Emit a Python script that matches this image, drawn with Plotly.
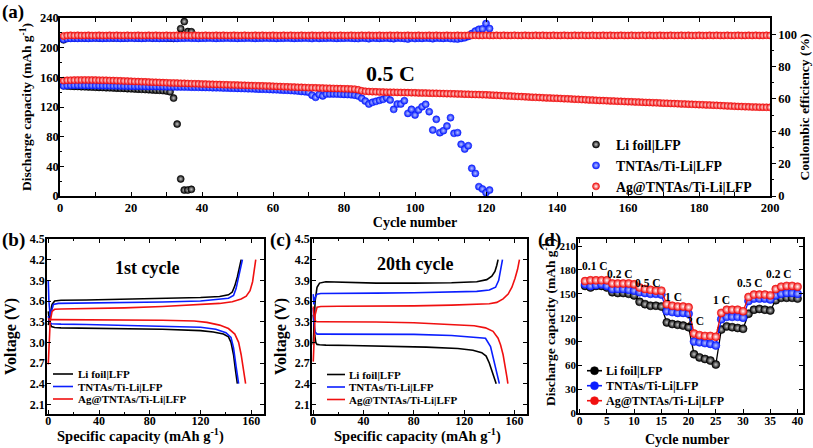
import plotly.graph_objects as go

# ---------------- Panel (a) data ----------------
a_li_cycles = list(range(1, 38))
a_li_capacity = [148.5, 148.3, 148.1, 147.8, 147.7, 147.4, 147.2, 147.1, 146.8, 146.6,
                 146.4, 146.3, 146.0, 145.8, 145.7, 145.4, 145.2, 145.1, 144.7, 144.5,
                 144.3, 144.0, 143.8, 143.5, 143.3, 143.0, 142.7, 142.5, 142.1, 141.6,
                 140.5, 132.0, 97.0, 23.0, 8.0, 8.0, 9.0]
a_li_ce = [96.5, 97.6, 97.8, 97.7, 97.9, 97.8, 97.7, 97.8, 97.9, 97.8,
           97.7, 97.8, 97.8, 97.9, 97.7, 97.8, 97.8, 97.7, 97.8, 97.9,
           97.8, 97.7, 97.8, 97.8, 97.9, 97.7, 97.8, 97.8, 97.7, 97.6,
           97.5, 97.4, 97.6, 103.4, 107.8, 101.6, 101.5]

a_tn_cycles = list(range(1, 122))
a_tn_capacity = [148.6, 149.0, 149.2, 149.3, 149.3, 149.2, 149.1, 149.1, 149.0, 148.9,
                 148.8, 148.8, 148.7, 148.6, 148.5, 148.5, 148.4, 148.3, 148.2, 148.1,
                 148.1, 148.0, 147.9, 147.8, 147.7, 147.7, 147.6, 147.5, 147.4, 147.3,
                 147.2, 147.1, 147.1, 147.0, 146.9, 146.8, 146.7, 146.6, 146.5, 146.4,
                 146.3, 146.2, 146.0, 145.9, 145.8, 145.6, 145.5, 145.4, 145.2, 145.1,
                 144.9, 144.8, 144.6, 144.5, 144.3, 144.1, 144.0, 143.8, 143.6, 143.4,
                 143.2, 143.0, 142.7, 142.5, 142.2, 141.9, 141.5, 141.0, 140.6, 140.0,
                 136.0, 133.0, 137.0, 135.0, 137.5, 137.5, 137.6, 137.4, 137.3, 137.0,
                 136.8, 136.5, 136.0, 134.8, 131.7, 128.0, 124.0, 126.3, 127.6, 129.0,
                 130.3, 132.5, 129.4, 116.8, 124.0, 124.0, 128.5, 111.4, 116.8, 109.2,
                 116.0, 120.4, 123.6, 113.7, 89.0, 103.4, 85.4, 88.0, 94.4, 105.6,
                 84.5, 85.4, 69.7, 63.3, 67.8, 37.3, 30.5, 12.6, 9.4, 4.5, 8.0]
a_tn_ce = [96.8, 97.3, 97.4, 97.5, 97.4, 97.5, 97.5, 97.4, 97.5, 97.6,
           97.5, 97.4, 97.5, 97.5, 97.6, 97.5, 97.4, 97.5, 97.5, 97.6,
           97.5, 97.5, 97.4, 97.5, 97.6, 97.5, 97.5, 97.4, 97.5, 97.5,
           97.6, 97.5, 97.4, 97.5, 97.5, 97.6, 97.5, 97.5, 97.4, 97.5,
           97.5, 97.6, 97.5, 97.4, 97.5, 97.5, 97.6, 97.5, 97.5, 97.4,
           97.5, 97.5, 97.6, 97.5, 97.4, 97.5, 97.5, 97.6, 97.5, 97.5,
           97.4, 97.5, 97.5, 97.6, 97.5, 97.4, 97.5, 97.5, 97.6, 97.5,
           97.3, 97.6, 97.4, 97.5, 97.5, 97.6, 97.5, 97.4, 97.5, 97.5,
           97.6, 97.5, 97.4, 97.3, 97.6, 97.5, 97.2, 97.6, 97.5, 97.4,
           97.5, 97.6, 97.4, 97.2, 97.6, 97.5, 97.3, 97.0, 97.6, 97.3,
           97.5, 97.4, 97.6, 97.5, 97.2, 97.6, 97.5, 97.4, 97.6, 97.3,
           97.1, 97.0, 97.4, 97.8, 98.6, 100.4, 101.9, 103.0, 103.3, 106.6, 103.5]

a_ag_cycles = list(range(1, 201))
a_ag_capacity = [155.6, 156.0, 156.2, 156.3, 156.4, 156.4, 156.5, 156.4, 156.4, 156.3,
                 156.2, 156.1, 156.0, 155.8, 155.7, 155.5, 155.3, 155.1, 154.9, 154.7,
                 154.5, 154.3, 154.1, 153.9, 153.7, 153.5, 153.3, 153.1, 152.9, 152.7,
                 152.5, 152.4, 152.2, 152.0, 151.9, 151.7, 151.5, 151.4, 151.2, 151.0,
                 150.9, 150.7, 150.6, 150.4, 150.3, 150.1, 150.0, 149.8, 149.7, 149.5,
                 149.4, 149.2, 149.1, 148.9, 148.8, 148.6, 148.5, 148.3, 148.2, 148.0,
                 147.8, 147.6, 147.4, 147.2, 147.0, 146.8, 146.6, 146.5, 146.3, 146.1,
                 146.0, 145.8, 145.7, 145.5, 145.4, 145.2, 145.1, 144.9, 144.8, 144.6,
                 144.5, 144.3, 144.1, 143.2, 141.9, 141.2, 140.9, 140.7, 140.5, 140.3,
                 140.2, 140.0, 139.9, 139.8, 139.7, 139.6, 139.5, 139.4, 139.3, 139.2,
                 139.0, 138.9, 138.8, 138.7, 138.5, 138.4, 138.3, 138.1, 138.0, 137.9,
                 137.7, 137.6, 137.5, 137.3, 137.2, 137.0, 136.9, 136.7, 136.6, 136.4,
                 136.2, 136.0, 135.7, 135.5, 135.2, 135.0, 134.7, 134.5, 134.2, 134.0,
                 133.7, 133.5, 133.2, 133.0, 132.8, 132.5, 132.3, 132.1, 131.9, 131.7,
                 131.5, 131.2, 131.0, 130.8, 130.5, 130.3, 130.0, 129.8, 129.5, 129.3,
                 129.0, 128.8, 128.6, 128.4, 128.2, 128.0, 127.8, 127.6, 127.4, 127.2,
                 127.0, 126.8, 126.6, 126.4, 126.2, 126.0, 125.8, 125.6, 125.4, 125.2,
                 125.0, 124.8, 124.6, 124.4, 124.2, 124.0, 123.8, 123.6, 123.4, 123.2,
                 123.0, 122.8, 122.6, 122.4, 122.2, 121.9, 121.7, 121.5, 121.2, 121.0,
                 120.8, 120.6, 120.4, 120.2, 120.0, 119.9, 119.8, 119.7, 119.6, 119.5]
a_ag_ce = [98.9, 99.2, 99.3, 99.2, 99.3, 99.2, 99.2, 99.3, 99.2, 99.2,
           99.3, 99.2, 99.2, 99.3, 99.2, 99.3, 99.2, 99.2, 99.3, 99.2,
           99.2, 99.3, 99.2, 99.2, 99.3, 99.2, 99.3, 99.2, 99.2, 99.3,
           99.2, 99.2, 99.3, 99.2, 99.3, 99.2, 99.2, 99.3, 99.2, 99.2,
           99.3, 99.2, 99.2, 99.3, 99.2, 99.3, 99.2, 99.2, 99.3, 99.2,
           99.2, 99.3, 99.2, 99.2, 99.3, 99.2, 99.3, 99.2, 99.2, 99.3,
           99.2, 99.2, 99.3, 99.2, 99.3, 99.2, 99.2, 99.3, 99.2, 99.2,
           99.3, 99.2, 99.2, 99.3, 99.2, 99.3, 99.2, 99.2, 99.3, 99.2,
           99.2, 99.3, 99.2, 99.2, 99.3, 99.2, 99.3, 99.2, 99.2, 99.3,
           99.2, 99.2, 99.3, 99.2, 99.3, 99.2, 99.2, 99.3, 99.2, 99.2,
           99.3, 99.2, 99.2, 99.3, 99.2, 99.3, 99.2, 99.2, 99.3, 99.2,
           99.2, 99.3, 99.2, 99.2, 99.3, 99.2, 99.3, 99.2, 99.2, 99.3,
           99.2, 99.2, 99.3, 99.2, 99.3, 99.2, 99.2, 99.3, 99.2, 99.2,
           99.3, 99.2, 99.2, 99.3, 99.2, 99.3, 99.2, 99.2, 99.3, 99.2,
           99.2, 99.3, 99.2, 99.2, 99.3, 99.2, 99.3, 99.2, 99.2, 99.3,
           99.2, 99.2, 99.3, 99.2, 99.3, 99.2, 99.2, 99.3, 99.2, 99.2,
           99.3, 99.2, 99.2, 99.3, 99.2, 99.3, 99.2, 99.2, 99.3, 99.2,
           99.2, 99.3, 99.2, 99.2, 99.3, 99.2, 99.3, 99.2, 99.2, 99.3,
           99.2, 99.2, 99.3, 99.2, 99.3, 99.2, 99.2, 99.3, 99.2, 99.2,
           99.3, 99.2, 99.2, 99.3, 99.2, 99.3, 99.2, 99.2, 99.3, 99.2]

# ---------------- Panel (b) data: 1st cycle ----------------
b_li_ch_cap = [0, 1.5, 3, 5, 10, 30, 60, 90, 120, 135, 142, 145, 147, 149, 150.5, 152]
b_li_ch_v = [3.25, 3.4, 3.55, 3.6, 3.61, 3.615, 3.625, 3.635, 3.65, 3.665, 3.69, 3.73, 3.82, 3.95, 4.07, 4.2]
b_tn_ch_cap = [0, 0.5, 1.5, 2.5, 4, 8, 30, 60, 90, 120, 135, 142, 146, 148, 150, 151.5, 153]
b_tn_ch_v = [3.9, 3.6, 3.38, 3.45, 3.55, 3.565, 3.57, 3.575, 3.585, 3.6, 3.62, 3.64, 3.68, 3.78, 3.95, 4.08, 4.2]
b_ag_ch_cap = [0, 0.5, 1.5, 3, 5, 10, 30, 60, 90, 120, 135, 145, 152, 156, 159, 161, 162.5, 163.5]
b_ag_ch_v = [2.68, 3.0, 3.3, 3.45, 3.48, 3.485, 3.49, 3.5, 3.52, 3.545, 3.565, 3.59, 3.63, 3.67, 3.75, 3.88, 4.05, 4.2]
b_li_dis_cap = [0, 1, 2.5, 5, 10, 30, 60, 90, 120, 130, 138, 142, 144, 146, 147.5, 149]
b_li_dis_v = [3.45, 3.3, 3.23, 3.215, 3.21, 3.205, 3.2, 3.19, 3.17, 3.15, 3.12, 3.08, 3.0, 2.82, 2.6, 2.4]
b_tn_dis_cap = [0, 1, 2.5, 5, 10, 30, 60, 90, 120, 132, 140, 144, 146, 148, 150]
b_tn_dis_v = [3.38, 3.3, 3.27, 3.265, 3.265, 3.26, 3.25, 3.24, 3.22, 3.19, 3.14, 3.07, 2.92, 2.65, 2.4]
b_ag_dis_cap = [0, 1, 3, 10, 30, 60, 90, 115, 125, 135, 142, 147, 150, 152, 154, 155.5]
b_ag_dis_v = [3.35, 3.33, 3.33, 3.33, 3.33, 3.325, 3.32, 3.31, 3.29, 3.25, 3.2, 3.12, 3.0, 2.82, 2.6, 2.4]

# ---------------- Panel (c) data: 20th cycle ----------------
c_li_ch_cap = [0, 0.5, 1.5, 3, 5, 10, 30, 50, 80, 110, 130, 138, 142, 144.5, 146, 147]
c_li_ch_v = [2.97, 3.2, 3.6, 3.8, 3.86, 3.88, 3.87, 3.86, 3.86, 3.865, 3.88, 3.91, 3.96, 4.03, 4.12, 4.2]
c_tn_ch_cap = [0, 0.5, 1.5, 3, 6, 20, 50, 80, 110, 130, 140, 145, 147.5, 149, 150.5]
c_tn_ch_v = [3.7, 3.55, 3.65, 3.7, 3.71, 3.715, 3.715, 3.72, 3.73, 3.74, 3.76, 3.8, 3.9, 4.05, 4.2]
c_ag_ch_cap = [0, 0.5, 1.5, 3, 6, 20, 50, 80, 110, 130, 140, 146, 151, 155, 158, 160.5, 162.5, 164]
c_ag_ch_v = [2.72, 3.0, 3.4, 3.51, 3.52, 3.525, 3.525, 3.53, 3.54, 3.55, 3.56, 3.58, 3.63, 3.7, 3.8, 3.93, 4.06, 4.2]
c_li_dis_cap = [0, 0.5, 1.2, 2, 3, 5, 10, 30, 60, 90, 115, 127, 134, 137.5, 140, 142, 144, 145.5]
c_li_dis_v = [3.4, 3.25, 3.1, 3.0, 2.97, 2.965, 2.96, 2.955, 2.945, 2.93, 2.91, 2.885, 2.85, 2.8, 2.7, 2.58, 2.47, 2.4]
c_tn_dis_cap = [0, 0.5, 1.5, 3, 6, 20, 50, 80, 110, 128, 137, 141, 144, 146, 148]
c_tn_dis_v = [3.5, 3.3, 3.15, 3.12, 3.12, 3.12, 3.12, 3.115, 3.1, 3.08, 3.06, 2.94, 2.7, 2.55, 2.4]
c_ag_dis_cap = [0, 0.5, 1.5, 3, 6, 20, 50, 80, 115, 128, 137, 143, 147, 149, 151, 152.5, 154, 154.8]
c_ag_dis_v = [3.52, 3.4, 3.31, 3.3, 3.3, 3.3, 3.295, 3.285, 3.26, 3.24, 3.21, 3.16, 3.06, 2.96, 2.82, 2.68, 2.5, 2.4]

# ---------------- Panel (d) data: rate capability ----------------
d_cycles = list(range(1, 41))
d_li = [160, 158, 160, 160, 158, 152, 151, 151, 150, 148,
        140, 137, 135, 135, 134, 114, 112, 111, 110, 108,
        74, 70, 68, 66, 61, 105, 109, 108, 107, 106,
        125, 130, 131, 130, 129, 142, 145, 145, 145, 144]
d_tn = [162, 160, 161, 162, 160, 156, 156, 156, 155, 154,
        152, 151, 150, 150, 149, 128, 127, 126, 126, 125,
        90, 89, 88, 87, 85, 118, 121, 121, 121, 120,
        141, 144, 144, 144, 143, 148, 150, 151, 151, 150]
d_ag = [166, 167, 167, 167, 167, 163, 163, 163, 163, 162,
        158, 156, 155, 154, 154, 137, 135, 134, 134, 133,
        100, 98, 97, 97, 96, 126, 130, 130, 130, 128,
        146, 149, 149, 149, 148, 156, 159, 160, 160, 159]
d_rate_labels = ["0.1 C", "0.2 C", "0.5 C", "1 C", "2 C", "1 C", "0.5 C", "0.2 C"]
d_rate_x = [2.9, 7.5, 12.6, 17.2, 21.2, 26.1, 31.3, 36.6]
d_rate_y = [185, 174.5, 164, 146, 116, 142, 163, 174.5]

series_names = ["Li foil|LFP", "TNTAs/Ti-Li|LFP", "Ag@TNTAs/Ti-Li|LFP"]
series_colors = ["#000000", "#0a1eff", "#f01010"]
ball_glow = ["#c8c8c8", "#b8c4ff", "#ffffff"]

FONT = "Liberation Serif"
W, H = 813, 448


def px_x(v):
    return v / W


def px_y(v):
    return 1 - v / H


def bfont(size):
    return dict(family=FONT, size=size, color="black", weight="bold")


def ball(i, size):
    return dict(symbol="circle", size=size, color=series_colors[i],
                gradient=dict(type="radial", color=ball_glow[i]),
                line=dict(width=0.6, color=series_colors[i]))


fig = go.Figure()

# ---------- panel (a) ----------
a_sets = [(a_li_cycles, a_li_capacity, a_li_ce),
          (a_tn_cycles, a_tn_capacity, a_tn_ce),
          (a_ag_cycles, a_ag_capacity, a_ag_ce)]
for i, (cyc, cap, ce) in enumerate(a_sets):
    fig.add_trace(go.Scatter(x=cyc, y=ce, mode="markers", marker=ball(i, 7),
                             xaxis="x", yaxis="y2", showlegend=False))
for i, (cyc, cap, ce) in enumerate(a_sets):
    fig.add_trace(go.Scatter(x=cyc, y=cap, mode="markers", marker=ball(i, 7),
                             name=series_names[i], xaxis="x", yaxis="y",
                             showlegend=True, legend="legend"))

# ---------- panel (b) ----------
b_sets = [(b_li_ch_cap, b_li_ch_v, b_li_dis_cap, b_li_dis_v),
          (b_tn_ch_cap, b_tn_ch_v, b_tn_dis_cap, b_tn_dis_v),
          (b_ag_ch_cap, b_ag_ch_v, b_ag_dis_cap, b_ag_dis_v)]
for i, (cc, cv, dc, dv) in enumerate(b_sets):
    for xx, yy in ((cc, cv), (dc, dv)):
        fig.add_trace(go.Scatter(x=xx, y=yy, mode="lines",
                                 line=dict(color=series_colors[i], width=1.6),
                                 xaxis="x2", yaxis="y3", showlegend=False))

# ---------- panel (c) ----------
c_sets = [(c_li_ch_cap, c_li_ch_v, c_li_dis_cap, c_li_dis_v),
          (c_tn_ch_cap, c_tn_ch_v, c_tn_dis_cap, c_tn_dis_v),
          (c_ag_ch_cap, c_ag_ch_v, c_ag_dis_cap, c_ag_dis_v)]
for i, (cc, cv, dc, dv) in enumerate(c_sets):
    for xx, yy in ((cc, cv), (dc, dv)):
        fig.add_trace(go.Scatter(x=xx, y=yy, mode="lines",
                                 line=dict(color=series_colors[i], width=1.6),
                                 xaxis="x3", yaxis="y4", showlegend=False))

# ---------- panel (d) ----------
for i, vals in enumerate([d_li, d_tn, d_ag]):
    fig.add_trace(go.Scatter(x=d_cycles, y=vals, mode="lines+markers",
                             line=dict(color=series_colors[i], width=1.3),
                             marker=ball(i, 8),
                             xaxis="x4", yaxis="y5", showlegend=False))

base = dict(showline=True, linecolor="black", linewidth=1.5, showgrid=False,
            zeroline=False, ticks="inside", ticklen=4, tickwidth=1.2,
            tickcolor="black", tickfont=bfont(12.5), automargin=False)
minor_in = dict(ticks="inside", ticklen=2.5, tickcolor="black")
xstand = -3
ystand = -4

dom_a_x = [px_x(60), px_x(770)]
dom_a_y = [px_y(196), px_y(18)]
dom_b_x = [px_x(47), px_x(264)]
dom_c_x = [px_x(312), px_x(527)]
dom_d_x = [px_x(578), px_x(803)]
dom_bc_y = [px_y(414), px_y(239)]
dom_d_y = [px_y(413), px_y(239)]
volt_ticks = [2.1, 2.4, 2.7, 3.0, 3.3, 3.6, 3.9, 4.2, 4.5]

fig.update_layout(
    width=W, height=H, margin=dict(l=0, r=0, t=0, b=0),
    paper_bgcolor="white", plot_bgcolor="white",
    font=dict(family=FONT, color="black"),
    xaxis=dict(base, domain=dom_a_x, range=[0, 200], dtick=20, mirror="allticks",
               minor=dict(minor_in, dtick=10), ticklabelstandoff=-1,
               title=dict(text="Cycle number", font=bfont(14), standoff=0), anchor="y"),
    yaxis=dict(base, domain=dom_a_y, range=[0, 240], dtick=40, mirror=False,
               minor=dict(minor_in, dtick=20), ticklabelstandoff=ystand + 1,
               title=dict(text="Discharge capacity (mAh g<sup>-1</sup>)", font=bfont(13.5), standoff=5),
               anchor="x"),
    yaxis2=dict(base, overlaying="y", side="right", range=[0, 110],
                tickvals=[0, 20, 40, 60, 80, 100], ticks="outside", anchor="x",
                minor=dict(tickvals=[10, 30, 50, 70, 90], ticks="outside", ticklen=2.5, tickcolor="black"),
                title=dict(text="Coulombic efficiency (%)", font=bfont(13.5), standoff=2)),
    xaxis2=dict(base, domain=dom_b_x, range=[-1, 170], dtick=40, mirror="allticks", anchor="y3",
                tickfont=bfont(12), minor=dict(minor_in, dtick=20), ticklabelstandoff=xstand - 2),
    yaxis3=dict(base, domain=dom_bc_y, range=[1.96, 4.5], tickvals=volt_ticks, tickfont=bfont(12),
                tickformat=".1f", mirror="allticks", anchor="x2", ticklabelstandoff=ystand + 2),
    xaxis3=dict(base, domain=dom_c_x, range=[-1, 170], dtick=40, mirror="allticks", anchor="y4",
                tickfont=bfont(12), minor=dict(minor_in, dtick=20), ticklabelstandoff=xstand - 2),
    yaxis4=dict(base, domain=dom_bc_y, range=[1.96, 4.5], tickvals=volt_ticks, tickfont=bfont(12),
                tickformat=".1f", mirror="allticks", anchor="x3", ticklabelstandoff=ystand + 2),
    xaxis4=dict(base, domain=dom_d_x, range=[-0.3, 41], dtick=5, mirror="allticks", anchor="y5",
                tickfont=bfont(11.5), ticklabelstandoff=xstand - 1),
    yaxis5=dict(base, domain=dom_d_y, range=[0, 219], dtick=30, mirror="allticks", anchor="x4",
                tickfont=bfont(11), ticklabelstandoff=ystand + 2),
    legend=dict(x=px_x(576), y=px_y(129), xanchor="left", yanchor="top",
                bgcolor="rgba(0,0,0,0)", borderwidth=0, tracegroupgap=0,
                font=bfont(13.8), itemwidth=30),
)

annotations = []
shapes = []


def ptext(text, x, y, size, angle=0, xanchor="center"):
    annotations.append(dict(text=text, x=px_x(x), y=px_y(y), xref="paper", yref="paper",
                            xanchor=xanchor, yanchor="middle", showarrow=False,
                            textangle=angle, font=bfont(size), borderpad=0))


# panel letters
for lbl, x, y in [("(a)", 1, 12), ("(b)", 1, 240), ("(c)", 269, 240), ("(d)", 537, 240)]:
    ptext(lbl, x, y, 19, xanchor="left")

# axis titles of the lower panels
ptext("Specific capacity (mAh g<sup>-1</sup>)", 140, 435, 14.5)
ptext("Specific capacity (mAh g<sup>-1</sup>)", 417, 435, 14.5)
ptext("Cycle number", 687, 439, 14)
ptext("Voltage (V)", 11, 337, 16, angle=-90)
ptext("Voltage (V)", 281, 337, 16, angle=-90)
ptext("Discharge capacity (mAh g<sup>-1</sup>)", 549, 322, 13.5, angle=-90)

annotations.append(dict(text="0.5 C", x=93, y=164.5, xref="x", yref="y", showarrow=False,
                        font=bfont(22)))
annotations.append(dict(text="1st cycle", x=78, y=4.085, xref="x2", yref="y3", showarrow=False,
                        font=bfont(18)))
annotations.append(dict(text="20th cycle", x=81, y=4.13, xref="x3", yref="y4", showarrow=False,
                        font=bfont(18)))
for t, x, y in zip(d_rate_labels, d_rate_x, d_rate_y):
    annotations.append(dict(text=t, x=x, y=y, xref="x4", yref="y5", showarrow=False,
                            font=bfont(11.5)))

# compact legends for (b), (c) and (d)
legend_specs = [
    (53, 73, 77, [374, 386.5, 399], False, 11),
    (327, 345, 348, [374.5, 387, 399.5], False, 11),
    (587, 602, 605, [370.7, 385.7, 400.7], True, 12),
]
for x0, x1, xt, rows, has_ball, fsize in legend_specs:
    for i, yrow in enumerate(rows):
        shapes.append(dict(type="line", xref="paper", yref="paper",
                           x0=px_x(x0), x1=px_x(x1), y0=px_y(yrow), y1=px_y(yrow),
                           line=dict(color=series_colors[i], width=1.6)))
        if has_ball:
            xc = (x0 + x1) / 2
            shapes.append(dict(type="circle", xref="paper", yref="paper",
                               x0=px_x(xc - 4), x1=px_x(xc + 4), y0=px_y(yrow + 4), y1=px_y(yrow - 4),
                               fillcolor=series_colors[i], line=dict(color=series_colors[i], width=0.6)))
        ptext(series_names[i], xt, yrow, fsize, xanchor="left")

fig.update_layout(annotations=annotations, shapes=shapes)
fig.write_html("out.html", config={"displayModeBar": False},
               post_script="document.body.style.margin='0px';")
